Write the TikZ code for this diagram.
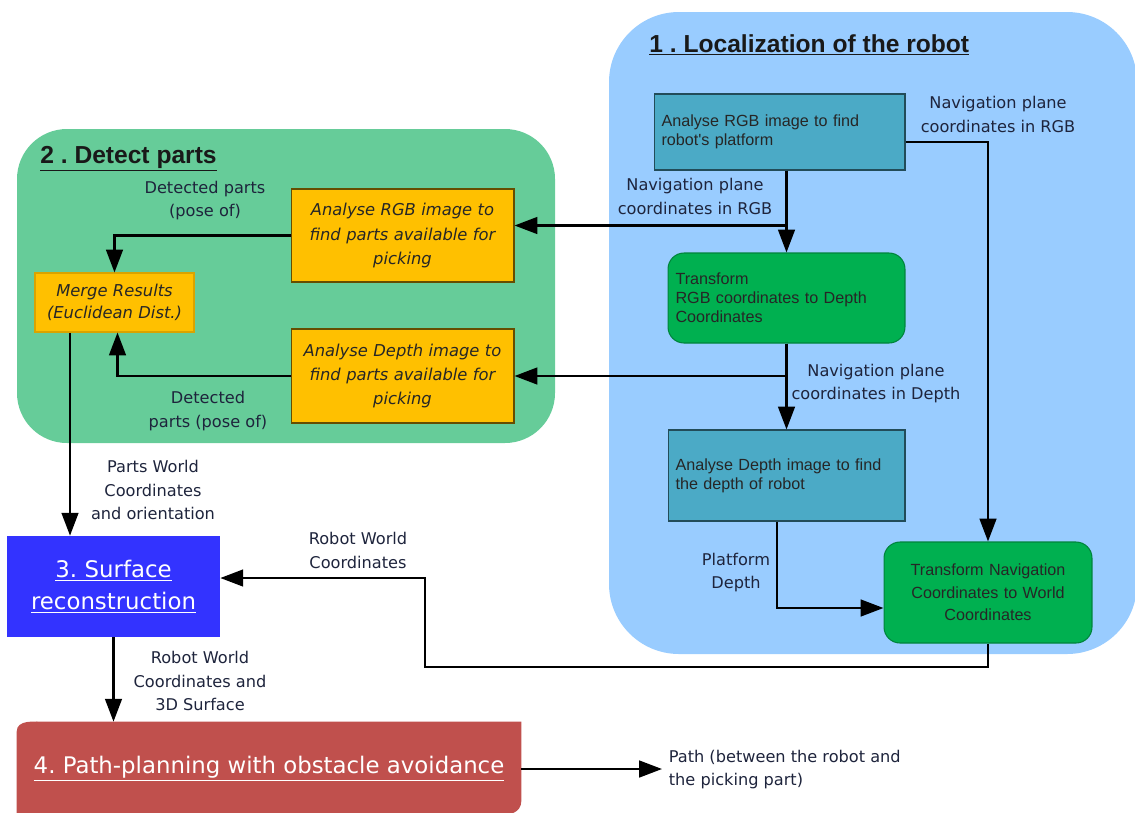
\documentclass[tikz,border=0pt]{standalone}
\usepackage{fontspec}
\setmainfont{DejaVu Sans}
\newfontfamily\arialfont{Liberation Sans}
\usepackage{tikz}
\usetikzlibrary{positioning,arrows.meta,backgrounds}
\definecolor{locblue}{RGB}{153,204,255}
\definecolor{detgreen}{RGB}{102,204,153}
\definecolor{tealbox}{RGB}{75,170,198}
\definecolor{greenbox}{RGB}{0,176,80}
\definecolor{partorange}{RGB}{255,192,0}
\definecolor{surfblue}{RGB}{51,51,255}
\definecolor{pathred}{RGB}{192,80,77}
\definecolor{labelink}{RGB}{30,36,60}
\frenchspacing

\begin{document}
\begin{tikzpicture}[x=0.02cm, y=-0.02cm,
  arr/.style={line width=1.35pt, -{Triangle[length=13pt,width=9.5pt]}},
  lbl/.style={font=\fontsize{9.2}{13.3}\selectfont, text=labelink, align=center, inner sep=0pt},
  grouptitle/.style={font=\arialfont\bfseries\fontsize{14}{16}\selectfont, text=black!90, inner sep=0pt, anchor=base west},
  tealnode/.style={rectangle, draw=tealbox!45!black, fill=tealbox, line width=0.6pt,
    font=\arialfont\fontsize{9.2}{10.8}\selectfont, text=black!85, align=left, inner xsep=0.15cm},
  greennode/.style={rectangle, rounded corners=0.32cm, draw=greenbox!75!black, fill=greenbox, line width=0.6pt,
    font=\arialfont\fontsize{9.2}{10.8}\selectfont, text=black!85, inner xsep=0.15cm},
  partnode/.style={rectangle, draw=partorange!40!black, fill=partorange, line width=0.6pt,
    font=\itshape\fontsize{9.3}{13.7}\selectfont, text=black!85, align=center, inner xsep=0.15cm},
  stagenode/.style={rectangle, fill=surfblue, text=white, align=center,
    font=\fontsize{13}{18}\selectfont, inner xsep=0.15cm}]

\useasboundingbox (0,0) rectangle (1135,812);

%%%%%%%%%%%%%%% groups %%%%%%%%%%%%%%%%
\fill[locblue, rounded corners=1.4cm] (609,12) rectangle (1137,654);
\fill[detgreen, rounded corners=1cm] (17,129) rectangle (555,443);
\node[grouptitle] (loctitle) at (649,52) {\underline{1 . Localization of the robot}};
\node[grouptitle] (dettitle) at (40,163) {\underline{2 . Detect parts}};

%%%%%%%%%%%%%%% 1 %%%%%%%%%%%%%%%%
\node[tealnode, text width=4.72cm, minimum height=1.52cm] (rgbrobot) at (779.5,132)
  {Analyse RGB image to find\\robot's platform};
\node[greennode, align=left, text width=4.44cm, minimum height=1.8cm] (rgbdepth) at (786.5,298)
  {Transform\\RGB coordinates to Depth\\Coordinates};
\node[tealnode, text width=4.44cm, minimum height=1.82cm] (depthrobot) at (786.5,475.5)
  {Analyse Depth image to find\\the depth of robot};
\node[greennode, align=center, text width=3.86cm, minimum height=2.02cm,
  font=\arialfont\fontsize{9.2}{12.9}\selectfont] (navworld) at (988,592.5)
  {Transform Navigation\\Coordinates to World\\Coordinates};

%%%%%%%%%%%%%%% 2 %%%%%%%%%%%%%%%%
\node[partnode, text width=4.16cm, minimum height=1.86cm] (rgbparts) at (402.5,235.5)
  {Analyse RGB image to\\find parts available for\\picking};
\node[partnode, text width=4.16cm, minimum height=1.88cm] (depthparts) at (402.5,376)
  {Analyse Depth image to\\find parts available for\\picking};
\node[partnode, draw=partorange!85!black, text width=2.88cm, minimum height=1.18cm,
  font=\itshape\fontsize{9.3}{12.7}\selectfont] (merge) at (114.5,302.5)
  {Merge Results\\(Euclidean Dist.)};

%%%%%%%%%%%%%%% 3 and 4 %%%%%%%%%%%%%%%%
\node[stagenode, text width=3.96cm, minimum height=2.02cm] (surface) at (113.5,586.5)
  {\underline{3. Surface}\\\underline{reconstruction}};
\node[stagenode, fill=none, minimum width=10.08cm, minimum height=1.88cm] (pathplan) at (269,769)
  {\underline{4. Path-planning with obstacle avoidance}};
\begin{scope}[on background layer]
\fill[pathred] (pathplan.south west) -- ([yshift=-0.2cm]pathplan.north west)
  to[out=90,in=180] ([xshift=0.6cm]pathplan.north west) -- (pathplan.north east)
  -- ([yshift=0.3cm]pathplan.south east) to[out=-90,in=0] ([xshift=-0.5cm]pathplan.south east) -- cycle;
\end{scope}

%%%%%%%%%%%%%%% labels %%%%%%%%%%%%%%%%
\node[lbl] (navrgbright) at (998,114.5) {Navigation plane\\coordinates in RGB};
\node[lbl] (navrgbleft) at (695,196.5) {Navigation plane\\coordinates in RGB};
\node[lbl] (navdepth) at (876,383.5) {Navigation plane\\coordinates in Depth};
\node[lbl] (platdepth) at (736,572.5) {Platform\\Depth};
\node[lbl] (robotworld) at (358,550.5) {Robot World\\Coordinates};
\node[lbl] (detrgb) at (205,200.5) {Detected parts\\(pose of)};
\node[lbl] (detdepth) at (208,411) {Detected\\parts (pose of)};
\node[lbl] (partsworld) at (153,490) {Parts World\\Coordinates\\and orientation};
\node[lbl] (robot3d) at (200,681) {Robot World\\Coordinates and\\3D Surface};
\node[lbl, align=left, anchor=west, inner xsep=0.13cm] (pathout) at (662,769.5)
  {Path (between the robot and\\the picking part)};

%%%%%%%%%%%%%%% connectors %%%%%%%%%%%%%%%%
\draw[arr] ([yshift=-0.2cm]rgbrobot.east) -| (navworld.north);
\draw[arr] (rgbrobot.south -| rgbdepth.north) -- (rgbdepth.north);
\draw[arr] (rgbrobot.south -| rgbdepth.north) |- ([yshift=0.2cm]rgbparts.east);
\draw[arr] (rgbdepth.south) -- (depthrobot.north);
\draw[arr] (rgbdepth.south) |- (depthparts.east);
\draw[arr] ([xshift=-0.19cm]depthrobot.south) |- ([yshift=-0.31cm]navworld.west);
\coordinate (rwturn) at (425,667);
\draw[arr] (navworld.south) |- (rwturn) |- ([yshift=0.17cm]surface.east);
\draw[arr] (rgbparts.west) -| (merge.north);
\draw[arr] (depthparts.west) -| ([xshift=0.06cm]merge.south);
\draw[arr] ([xshift=-0.89cm]merge.south) -- ([xshift=-0.89cm]merge.south |- surface.north);
\draw[arr] (surface.south) -- (surface.south |- pathplan.north);
\draw[arr] (pathplan.east) -- (pathplan.east -| pathout.west);

\end{tikzpicture}
\end{document}
